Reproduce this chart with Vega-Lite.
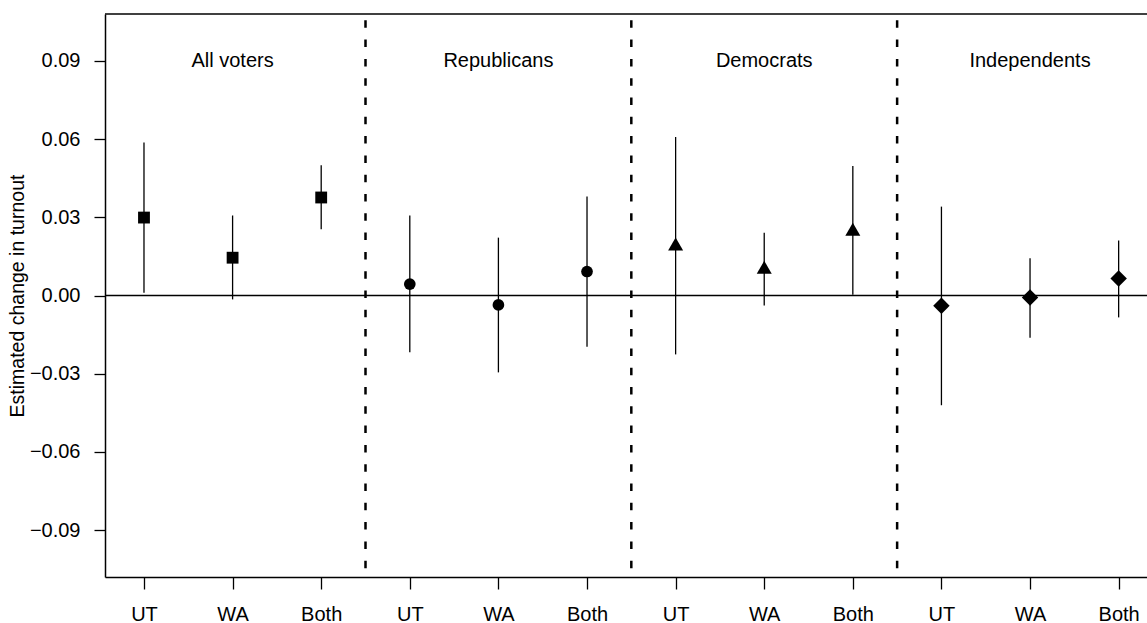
{
  "$schema": "https://vega.github.io/schema/vega-lite/v6.json",
  "width": 1042,
  "height": 563,
  "autosize": {"type": "none"},
  "padding": {"left": 105, "top": 14, "right": 0, "bottom": 46},
  "background": "white",
  "config": {
    "view": {"stroke": null},
    "font": "Liberation Sans",
    "axis": {"grid": false, "domainColor": "black", "domainWidth": 1.5, "tickColor": "black", "tickWidth": 1.3, "labelColor": "black", "labelFont": "Liberation Sans", "titleFont": "Liberation Sans", "titleColor": "black", "titleFontWeight": "normal"}
  },
  "datasets": {
    "est": [
      {"pos": 1, "group": "All voters", "state": "UT", "est": 0.0299, "lo": 0.0011, "hi": 0.0587},
      {"pos": 2, "group": "All voters", "state": "WA", "est": 0.0145, "lo": -0.0015, "hi": 0.0307},
      {"pos": 3, "group": "All voters", "state": "Both", "est": 0.0376, "lo": 0.0254, "hi": 0.0500},
      {"pos": 4, "group": "Republicans", "state": "UT", "est": 0.0044, "lo": -0.0218, "hi": 0.0307},
      {"pos": 5, "group": "Republicans", "state": "WA", "est": -0.0036, "lo": -0.0295, "hi": 0.0222},
      {"pos": 6, "group": "Republicans", "state": "Both", "est": 0.0092, "lo": -0.0197, "hi": 0.0380},
      {"pos": 7, "group": "Democrats", "state": "UT", "est": 0.0189, "lo": -0.0226, "hi": 0.0608},
      {"pos": 8, "group": "Democrats", "state": "WA", "est": 0.0100, "lo": -0.0038, "hi": 0.0241},
      {"pos": 9, "group": "Democrats", "state": "Both", "est": 0.0246, "lo": 0.0003, "hi": 0.0497},
      {"pos": 10, "group": "Independents", "state": "UT", "est": -0.0039, "lo": -0.0421, "hi": 0.0341},
      {"pos": 11, "group": "Independents", "state": "WA", "est": -0.0008, "lo": -0.0162, "hi": 0.0143},
      {"pos": 12, "group": "Independents", "state": "Both", "est": 0.0065, "lo": -0.0084, "hi": 0.0211}
    ],
    "groups": [
      {"pos": 2, "label": "All voters"},
      {"pos": 5, "label": "Republicans"},
      {"pos": 8, "label": "Democrats"},
      {"pos": 11, "label": "Independents"}
    ],
    "dividers": [{"pos": 3.5}, {"pos": 6.5}, {"pos": 9.5}]
  },
  "layer": [
    {
      "data": {"name": "est"},
      "mark": {"type": "rule", "color": "black", "strokeWidth": 1.3},
      "encoding": {
        "x": {"field": "pos", "type": "quantitative", "title": null,
          "scale": {"domain": [0.56, 12.32], "nice": false, "zero": false},
          "axis": {"values": [1, 2, 3, 4, 5, 6, 7, 8, 9, 10, 11, 12], "labelExpr": "['UT','WA','Both'][(datum.value-1)%3]", "tickSize": 12, "labelFontSize": 20, "labelPadding": 15, "labelFlush": false, "labelOverlap": false}},
        "y": {"field": "lo", "type": "quantitative", "title": "Estimated change in turnout",
          "scale": {"domain": [-0.108, 0.108], "nice": false, "zero": false},
          "axis": {"values": [-0.09, -0.06, -0.03, 0, 0.03, 0.06, 0.09], "format": ".2f", "tickSize": 11, "labelFontSize": 20, "labelPadding": 14, "title": "Estimated change in turnout", "titleFontSize": 19.5, "titlePadding": 2}},
        "y2": {"field": "hi"}
      }
    },
    {
      "data": {"values": [{}]},
      "mark": {"type": "rule", "color": "black", "strokeWidth": 1.3},
      "encoding": {"y": {"datum": 0, "type": "quantitative"}}
    },
    {
      "data": {"values": [{}]},
      "mark": {"type": "rule", "color": "black", "strokeWidth": 1.5},
      "encoding": {"y": {"datum": 0.108, "type": "quantitative"}}
    },
    {
      "data": {"name": "dividers"},
      "mark": {"type": "rule", "color": "black", "strokeWidth": 2.5, "strokeDash": [7.5, 11.8], "strokeDashOffset": 13},
      "encoding": {"x": {"field": "pos", "type": "quantitative", "title": null}}
    },
    {
      "data": {"name": "groups"},
      "mark": {"type": "text", "fontSize": 20, "color": "black", "align": "center", "baseline": "middle", "font": "Liberation Sans"},
      "encoding": {
        "x": {"field": "pos", "type": "quantitative", "title": null},
        "y": {"datum": 0.09, "type": "quantitative"},
        "text": {"field": "label"}
      }
    },
    {
      "data": {"name": "est"},
      "transform": [{"filter": "datum.group === 'All voters'"}],
      "mark": {"type": "point", "shape": "square", "filled": true, "color": "black", "opacity": 1, "size": 140},
      "encoding": {"x": {"field": "pos", "type": "quantitative", "title": null}, "y": {"field": "est", "type": "quantitative", "title": "Estimated change in turnout"}}
    },
    {
      "data": {"name": "est"},
      "transform": [{"filter": "datum.group === 'Republicans'"}],
      "mark": {"type": "point", "shape": "circle", "filled": true, "color": "black", "opacity": 1, "size": 137},
      "encoding": {"x": {"field": "pos", "type": "quantitative", "title": null}, "y": {"field": "est", "type": "quantitative", "title": "Estimated change in turnout"}}
    },
    {
      "data": {"name": "est"},
      "transform": [{"filter": "datum.group === 'Democrats'"}],
      "mark": {"type": "point", "shape": "M0,-1.1547L1,0.5774L-1,0.5774Z", "filled": true, "color": "black", "opacity": 1, "size": 225},
      "encoding": {"x": {"field": "pos", "type": "quantitative", "title": null}, "y": {"field": "est", "type": "quantitative", "title": "Estimated change in turnout"}}
    },
    {
      "data": {"name": "est"},
      "transform": [{"filter": "datum.group === 'Independents'"}],
      "mark": {"type": "point", "shape": "diamond", "filled": true, "color": "black", "opacity": 1, "size": 270},
      "encoding": {"x": {"field": "pos", "type": "quantitative", "title": null}, "y": {"field": "est", "type": "quantitative", "title": "Estimated change in turnout"}}
    }
  ]
}
